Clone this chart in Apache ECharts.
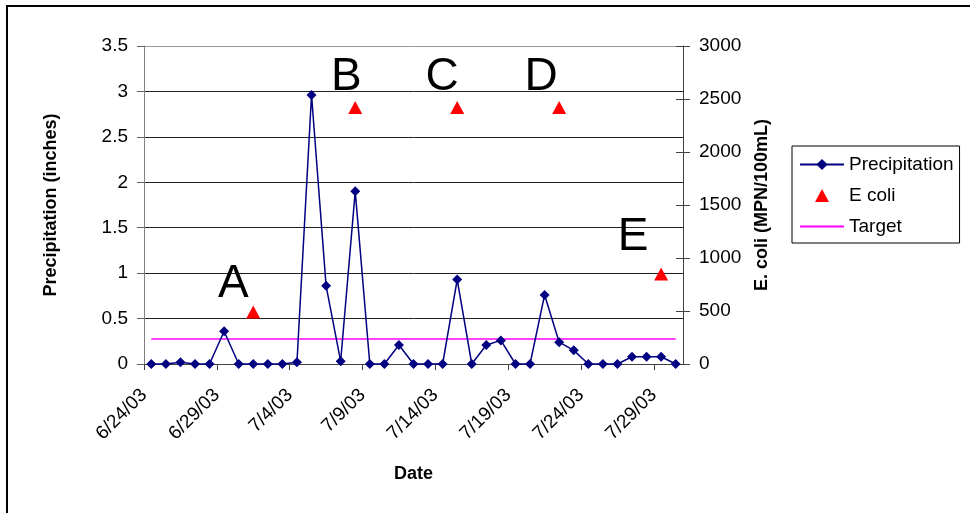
<!DOCTYPE html>
<html>
<head>
<meta charset="utf-8">
<script src="https://cdn.jsdelivr.net/npm/echarts@6/dist/echarts.min.js"></script>
<style>
  html, body { margin: 0; padding: 0; background: #fff; }
  #chart { width: 970px; height: 513px; }
</style>
</head>
<body>
<div id="chart"></div>
<script>
// Daily sampling dates
const dates = [
  '6/24/03', '6/25/03', '6/26/03', '6/27/03', '6/28/03', '6/29/03', '6/30/03',
  '7/1/03', '7/2/03', '7/3/03', '7/4/03', '7/5/03', '7/6/03', '7/7/03',
  '7/8/03', '7/9/03', '7/10/03', '7/11/03', '7/12/03', '7/13/03', '7/14/03',
  '7/15/03', '7/16/03', '7/17/03', '7/18/03', '7/19/03', '7/20/03', '7/21/03',
  '7/22/03', '7/23/03', '7/24/03', '7/25/03', '7/26/03', '7/27/03', '7/28/03',
  '7/29/03', '7/30/03'
];

// Daily precipitation (inches)
const precipitation = [
  0, 0, 0.02, 0, 0, 0.36, 0,
  0, 0, 0, 0.02, 2.96, 0.86, 0.03,
  1.90, 0, 0, 0.21, 0, 0, 0,
  0.93, 0, 0.21, 0.26, 0, 0, 0.76,
  0.24, 0.15, 0, 0, 0, 0.08, 0.08,
  0.08, 0
];

// E. coli samples (MPN/100mL)
const ecoliDates = ['7/1/03', '7/8/03', '7/15/03', '7/22/03', '7/29/03'];
const ecoliValues = [490, 2420, 2420, 2420, 850];
const ecoliLabels = ['A', 'B', 'C', 'D', 'E'];

// Single-sample E. coli target (MPN/100mL)
const targetEcoli = 235;

const FONT = '"Liberation Sans", Arial, Helvetica, sans-serif';

// sample letter placement relative to each marker
const letterOffsets = [[-20, -28], [-9, -30], [-15, -30], [-18, -30], [-28, -37]];

// legend triangle drawn inside a full-width icon box so it keeps its shape
const TRIANGLE_ICON = 'path://M0,0L0,0ZM44,14L44,14ZM22,0.5L29,13.5L15,13.5Z';

// centre of a day's slot on the date axis
const dayPos = d => dates.indexOf(d) + 0.5;

const chart = echarts.init(document.getElementById('chart'), null, { renderer: 'canvas' });

const option = {
  animation: false,
  backgroundColor: '#fff',
  textStyle: { fontFamily: FONT },
  grid: { left: 144, right: 287, top: 46, bottom: 149 },
  graphic: [{
    type: 'rect',
    shape: { x: 7, y: 6, width: 1000, height: 600 },
    style: { fill: 'none', stroke: '#000', lineWidth: 2 },
    silent: true
  }],
  legend: {
    orient: 'vertical',
    left: 792,
    top: 146,
    padding: [9, 6, 7, 7],
    itemGap: 12,
    itemWidth: 44,
    itemHeight: 14,
    borderColor: '#000',
    borderWidth: 1,
    textStyle: { fontFamily: FONT, fontSize: 19, color: '#000' },
    data: [
      { name: 'Precipitation' },
      { name: 'E coli', icon: TRIANGLE_ICON },
      { name: 'Target' }
    ]
  },
  xAxis: {
    type: 'value',
    min: 0,
    max: dates.length,
    interval: 5,
    name: 'Date',
    nameLocation: 'middle',
    nameGap: 101,
    nameTextStyle: { fontFamily: FONT, fontSize: 18, fontWeight: 'bold', color: '#000' },
    axisLine: { onZero: false, lineStyle: { color: '#404040', width: 1 } },
    axisTick: { length: 6, lineStyle: { color: '#404040' } },
    splitLine: { show: false },
    axisLabel: {
      rotate: 45,
      margin: 28,
      fontSize: 19,
      color: '#000',
      fontFamily: FONT,
      showMaxLabel: false,
      formatter: v => (v % 5 === 0 && v < dates.length) ? dates[v] : ''
    }
  },
  yAxis: [
    {
      type: 'value',
      min: 0,
      max: 3.5,
      interval: 0.5,
      position: 'left',
      name: 'Precipitation (inches)',
      nameLocation: 'middle',
      nameRotate: 90,
      nameGap: 84,
      nameTextStyle: { fontFamily: FONT, fontSize: 18, fontWeight: 'bold', color: '#000' },
      axisLine: { show: true, lineStyle: { color: '#808080' } },
      axisTick: { show: true, length: 7, lineStyle: { color: '#606060' } },
      axisLabel: { margin: 16, fontSize: 19, color: '#000', fontFamily: FONT },
      splitLine: {
        show: true,
        lineStyle: {
          color: ['#222', '#222', '#222', '#222', '#222', '#222', '#222', '#999'],
          width: 1
        }
      }
    },
    {
      type: 'value',
      min: 0,
      max: 3000,
      interval: 500,
      position: 'right',
      name: 'E. coli (MPN/100mL)',
      nameLocation: 'middle',
      nameRotate: 90,
      nameGap: 70,
      nameTextStyle: { fontFamily: FONT, fontSize: 18, fontWeight: 'bold', color: '#000' },
      axisLine: { show: true, lineStyle: { color: '#404040' } },
      axisTick: { show: true, length: 7, lineStyle: { color: '#404040' } },
      axisLabel: {
        margin: 16, fontSize: 19, color: '#000', fontFamily: FONT,
        formatter: v => String(v)
      },
      splitLine: { show: false }
    },
    {
      // inner half of the right-hand tick marks
      type: 'value',
      min: 0,
      max: 3000,
      interval: 500,
      position: 'right',
      axisLine: { show: false },
      axisTick: { show: true, inside: true, length: 7, lineStyle: { color: '#404040' } },
      axisLabel: { show: false },
      splitLine: { show: false }
    }
  ],
  series: [
    {
      name: 'Precipitation',
      type: 'line',
      yAxisIndex: 0,
      clip: false,
      data: precipitation.map((v, i) => [i + 0.5, v]),
      symbol: 'diamond',
      symbolSize: 10,
      lineStyle: { color: '#000080', width: 1.5 },
      itemStyle: { color: '#000080' },
      z: 3
    },
    {
      name: 'E coli',
      type: 'scatter',
      yAxisIndex: 1,
      clip: false,
      data: ecoliValues.map((v, i) => ({
        value: [dayPos(ecoliDates[i]), v],
        label: { offset: letterOffsets[i] }
      })),
      symbol: 'triangle',
      symbolSize: [14, 13],
      itemStyle: { color: '#ff0000', opacity: 1 },
      label: {
        show: true,
        position: 'inside',
        formatter: p => ecoliLabels[p.dataIndex],
        fontFamily: FONT,
        fontSize: 46,
        color: '#000'
      },
      z: 4
    },
    {
      name: 'Target',
      type: 'line',
      yAxisIndex: 1,
      data: [[0.5, targetEcoli], [dates.length - 0.5, targetEcoli]],
      symbol: 'none',
      lineStyle: { color: '#ff00ff', width: 1.5 },
      itemStyle: { color: '#ff00ff', opacity: 0 },
      z: 2
    }
  ]
};

chart.setOption(option);
</script>
</body>
</html>
